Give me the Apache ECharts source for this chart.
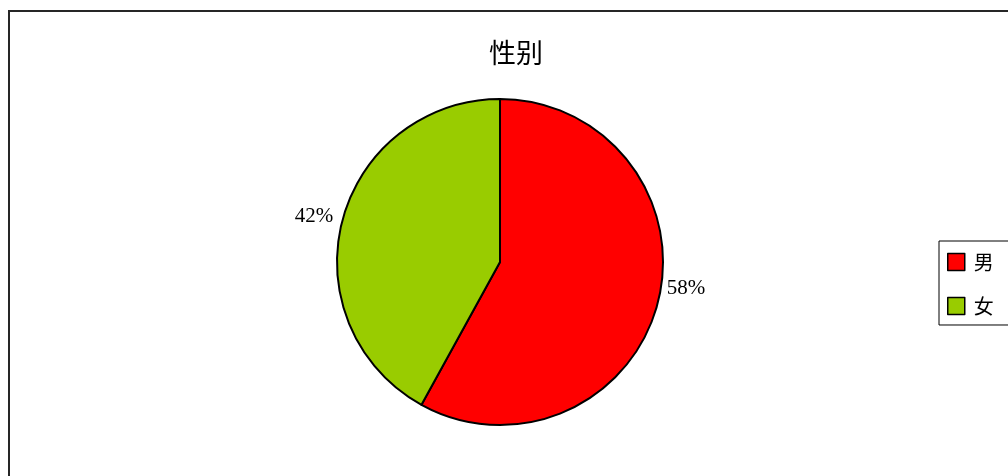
<!DOCTYPE html>
<html><head><meta charset="utf-8">
<script src="https://cdn.jsdelivr.net/npm/echarts@6/dist/echarts.min.js"></script>
<style>
html,body{margin:0;padding:0;background:#fff;overflow:hidden}
#frame{position:absolute;left:8px;top:10px;width:1200px;height:700px;border:2px solid #262626;box-sizing:border-box}
#c{position:absolute;left:0;top:0;width:1008px;height:476px}
</style></head>
<body>
<div id="frame"></div>
<div id="c"></div>
<script>
const titleText = '性别';
const categories = ['男', '女'];
const values = [58, 42];
const colors = ['#ff0000', '#99cc00'];

const chart = echarts.init(document.getElementById('c'), null, {renderer: 'canvas'});
chart.setOption({
  animation: false,
  backgroundColor: 'transparent',
  title: {
    text: titleText, left: 511, top: 34, textAlign: 'center',
    textStyle: {fontFamily: '"Noto Sans CJK SC", serif', fontSize: 27, fontWeight: 'normal', color: '#000'}
  },
  legend: {
    orient: 'vertical', left: 939, top: 241,
    padding: [11, 20, 9, 8], itemGap: 24,
    itemWidth: 17, itemHeight: 17,
    borderColor: '#000', borderWidth: 1, backgroundColor: '#fff',
    icon: 'rect',
    itemStyle: {borderColor: '#000', borderWidth: 1.5},
    textStyle: {fontFamily: '"Noto Sans CJK SC", serif', fontSize: 20, color: '#000', padding: [0, 0, 0, 4]},
    data: categories
  },
  series: [{
    type: 'pie',
    center: [500, 262], radius: 163,
    startAngle: 90, clockwise: true,
    data: categories.map((n, i) => ({name: n, value: values[i], itemStyle: {color: colors[i]}})),
    itemStyle: {borderColor: '#000', borderWidth: 2},
    label: {
      show: true, position: 'outside',
      formatter: p => Math.round(p.percent) + '%',
      fontFamily: '"Liberation Serif", serif', fontSize: 21, color: '#000'
    },
    labelLine: {show: false, length: 4, length2: 0},
    labelLayout: p => p.dataIndex === 0 ? {dy: -15} : {dy: -4},
    emphasis: {disabled: true}
  }]
});
</script>
</body></html>
